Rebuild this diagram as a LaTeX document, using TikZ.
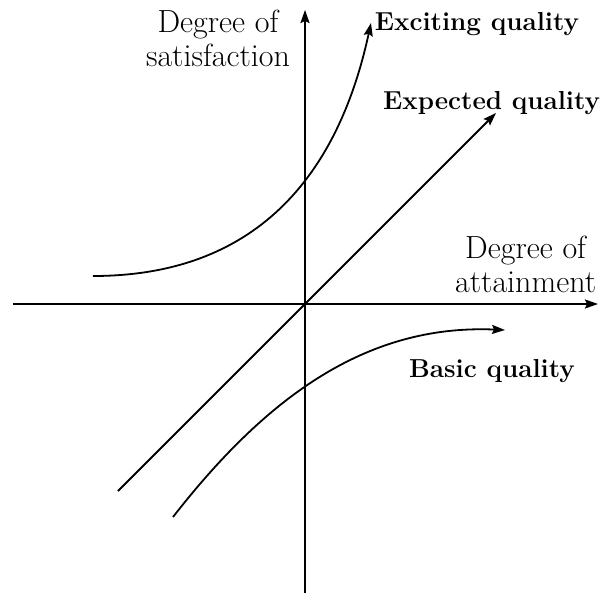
\documentclass[tikz,border=0pt]{standalone}
\usetikzlibrary{arrows.meta}
\begin{document}
\begin{tikzpicture}[x=0.5pt, y=0.5pt, line width=0.9pt,
  every node/.style={inner sep=0pt, font=\fontsize{16}{17}\selectfont},
  tip/.style={-{Stealth[length=6.5pt, width=4.5pt, inset=1pt]}},
  qual/.style={font=\fontsize{13}{15}\selectfont\bfseries}]
  \useasboundingbox (-305,-289) rectangle (298,304);
  % axes
  \coordinate (xl) at (-292,0);
  \coordinate (xr) at (293,0);
  \coordinate (yb) at (0,-289);
  \coordinate (yt) at (0,294);
  \draw[tip] (xl) -- (xr);
  \draw[tip] (yb) -- (yt);
  \node[align=center] (ylab) at (-87,266) {Degree of\\satisfaction};
  \node[align=center, anchor=east] (xlab) at (292,40) {Degree of\\attainment};
  % quality curves
  \coordinate (exc0) at (-212,28);
  \coordinate (exc1) at (66,281);
  \draw[tip] (exc0) .. controls (-60,28) and (30,115) .. (exc1);
  \node[qual, anchor=west] (exc) at (69,280) {Exciting quality};
  \coordinate (exp0) at (-187,-187);
  \coordinate (exp1) at (191,191);
  \draw[tip] (exp0) -- (exp1);
  \node[qual, anchor=east] (exp) at (296,201) {Expected quality};
  \coordinate (bas0) at (-132,-213);
  \coordinate (bas1) at (200,-26);
  \draw[tip] (bas0) .. controls (-40,-95) and (60,-20) .. (bas1);
  \node[qual] (bas) at (187,-67) {Basic quality};
\end{tikzpicture}
\end{document}
